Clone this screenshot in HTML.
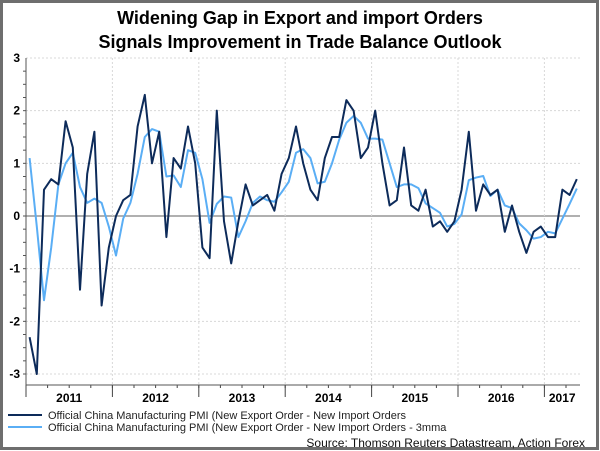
<!DOCTYPE html>
<html><head><meta charset="utf-8"><style>
body{margin:0;background:#fff;}
svg{display:block;font-family:"Liberation Sans",Arial,sans-serif;}
</style></head><body>
<svg width="600" height="451" viewBox="0 0 600 451">
<rect x="1.5" y="1.5" width="596" height="447" fill="#fff" stroke="#6e6e6e" stroke-width="3"/>
<text x="300" y="24" text-anchor="middle" font-size="18" font-weight="bold">Widening Gap in Export and import Orders</text>
<text x="300" y="48" text-anchor="middle" font-size="18" font-weight="bold">Signals Improvement in Trade Balance Outlook</text>
<g id="grid"></g>
<g id="axes"></g>
<g id="series"></g>
<line x1="8" y1="415" x2="42" y2="415" stroke="#0d2b5a" stroke-width="2"/>
<text x="48" y="419" font-size="11" fill="#222">Official China Manufacturing PMI (New Export Order - New Import Orders</text>
<line x1="8" y1="427" x2="42" y2="427" stroke="#5aaef5" stroke-width="2"/>
<text x="48" y="431" font-size="11" fill="#222">Official China Manufacturing PMI (New Export Order - New Import Orders - 3mma</text>
<text x="585" y="447" text-anchor="end" font-size="12" fill="#111">Source: Thomson Reuters Datastream, Action Forex</text>
</svg>
<script>
const years=["2011","2012","2013","2014","2015","2016","2017"];
const yTicks=[3,2,1,0,-1,-2,-3];
const monthly=[-2.3,-3.0,0.5,0.7,0.6,1.8,1.3,-1.4,0.8,1.6,-1.7,-0.6,0.0,0.3,0.4,1.7,2.3,1.0,1.6,-0.4,1.1,0.9,1.7,1.0,-0.6,-0.8,2.0,-0.1,-0.9,-0.1,0.6,0.2,0.3,0.4,0.1,0.8,1.1,1.7,1.0,0.5,0.3,1.1,1.5,1.5,2.2,2.0,1.1,1.3,2.0,1.0,0.2,0.3,1.3,0.2,0.1,0.5,-0.2,-0.1,-0.3,-0.1,0.5,1.6,0.1,0.6,0.4,0.5,-0.3,0.2,-0.3,-0.7,-0.3,-0.2,-0.4,-0.4,0.5,0.4,0.7];
const mma3=[1.1,-0.2,-1.6,-0.6,0.6,1.0,1.2,0.55,0.25,0.33,0.25,-0.2,-0.75,-0.05,0.25,0.8,1.5,1.65,1.6,0.75,0.77,0.55,1.25,1.2,0.7,-0.13,0.23,0.37,0.35,-0.4,-0.1,0.25,0.37,0.3,0.27,0.45,0.65,1.2,1.27,1.1,0.62,0.65,1.0,1.45,1.77,1.9,1.77,1.47,1.47,1.45,1.0,0.55,0.6,0.6,0.53,0.24,0.15,0.06,-0.2,-0.15,0.03,0.68,0.73,0.76,0.38,0.5,0.2,0.15,-0.14,-0.27,-0.43,-0.4,-0.3,-0.33,-0.05,0.23,0.52];
const NS="http://www.w3.org/2000/svg";
const X0=26,X1=580,MW=7.2,Y0=216,YU=52.67,YB=385;
const xS=i=>X0+(i+0.5)*MW;
const yS=v=>Y0-v*YU;
function mk(tag,attrs,parent){const e=document.createElementNS(NS,tag);for(const k in attrs)e.setAttribute(k,attrs[k]);parent.appendChild(e);return e;}
const grid=document.getElementById('grid'),axes=document.getElementById('axes'),series=document.getElementById('series');
yTicks.forEach(v=>{
 const l=mk('line',{x1:X0,x2:X1,y1:yS(v),y2:yS(v),stroke:v===0?'#808080':'#d8d8d8','stroke-width':v===0?1.2:1,'stroke-dasharray':v===0?'none':'2,2'},grid);
 
 
 const t=mk('text',{x:X0-6,y:yS(v)+4,'text-anchor':'end','font-size':12,'font-weight':'bold'},axes);
 t.textContent=String(v);
 
 
});
years.forEach((y,k)=>{
 const xb=X0+k*12*MW;
 if(k>0){const g=mk('line',{x1:xb,x2:xb,y1:yS(3),y2:YB,stroke:'#d8d8d8','stroke-dasharray':'2,2'},grid);
 
 }
 const s=mk('line',{x1:xb,x2:xb,y1:YB,y2:YB+12,stroke:'#444'},axes);
 
 
 const xm=Math.min(xb+6*MW,(xb+X1)/2+ (k===6?0:0));
 const t=mk('text',{x:k===6?(xb+X1)/2:xm,y:402,'text-anchor':'middle','font-size':12,'font-weight':'bold'},axes);
 t.textContent=y;
 
 
});
for(let m=0;m*MW*3+X0<=X1;m++){const x=X0+m*3*MW;const q=mk('line',{x1:x,x2:x,y1:YB,y2:YB+3,stroke:'#444'},axes);
 
 }
const ax=mk('line',{x1:X0,x2:X0,y1:yS(3),y2:YB,stroke:'#555'},axes);


const bx=mk('line',{x1:X0,x2:X1,y1:YB,y2:YB,stroke:'#555'},axes);


for(let v=-3;v<3;v+=0.25){const t=mk('line',{x1:X0-3,x2:X0,y1:yS(v),y2:yS(v),stroke:'#555'},axes);
 
 }
const p2=mk('polyline',{points:mma3.map((v,i)=>xS(i)+','+yS(v)).join(' '),fill:'none',stroke:'#5aaef5','stroke-width':2,'stroke-linejoin':'round'},series);


const p1=mk('polyline',{points:monthly.map((v,i)=>xS(i)+','+yS(v)).join(' '),fill:'none',stroke:'#0d2b5a','stroke-width':2,'stroke-linejoin':'round'},series);


</script>
</body></html>
